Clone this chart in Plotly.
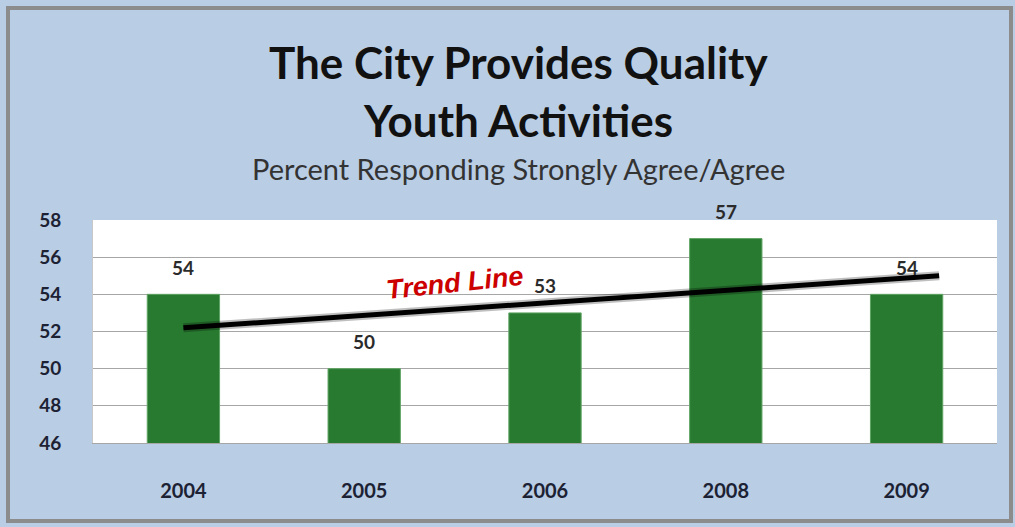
import plotly.graph_objects as go

years = ["2004", "2005", "2006", "2008", "2009"]
values = [54, 50, 53, 57, 54]
trend_x = [0.0, 4.18]
trend_y = [52.2, 55.0]
y_ticks = [46, 48, 50, 52, 54, 56, 58]

BG = "#b9cde5"
FONT = "Lato"
xs = list(range(len(years)))

fig = go.Figure()
fig.add_trace(go.Bar(
    x=xs, y=values, width=0.4,
    marker=dict(color="#287a30", line=dict(color="#5fa463", width=1)),
    hoverinfo="skip",
))
fig.add_trace(go.Scatter(
    x=trend_x, y=trend_y, mode="lines",
    line=dict(color="rgba(0,0,0,0.25)", width=9),
    hoverinfo="skip",
))
fig.add_trace(go.Scatter(
    x=trend_x, y=trend_y, mode="lines",
    line=dict(color="#000000", width=5),
    hoverinfo="skip",
))

annotations = []
for x, v in zip(xs, values):
    annotations.append(dict(
        x=x, y=v, xref="x", yref="y", text="<b>" + str(v) + "</b>", showarrow=False,
        yshift=27, font=dict(family=FONT, size=19, color="#2b2b2b"),
    ))
annotations.append(dict(
    x=1.5, y=54.6, xref="x", yref="y", text="<b><i>Trend Line</i></b>",
    showarrow=False, textangle=-6,
    font=dict(family="Liberation Sans", size=27, color="#cc0000"),
))

title_ann = [
    dict(x=518, y=62, text="<b>The City Provides Quality</b>", size=44, color="#111111"),
    dict(x=518, y=120, text="<b>Youth Activities</b>", size=44, color="#111111"),
    dict(x=518, y=168, text="Percent Responding Strongly Agree/Agree", size=29, color="#333333"),
]
for t in title_ann:
    annotations.append(dict(
        x=(t["x"] - 93) / (1015 - 93 - 18), y=(527 - 84 - t["y"]) / (527 - 220 - 84),
        xref="paper", yref="paper", text=t["text"], showarrow=False,
        xanchor="center", yanchor="middle",
        font=dict(family=FONT, size=t["size"], color=t["color"]),
    ))

fig.update_layout(
    width=1015, height=527,
    paper_bgcolor=BG, plot_bgcolor="#ffffff",
    margin=dict(l=93, r=18, t=220, b=84),
    showlegend=False,
    annotations=annotations,
    xaxis=dict(
        range=[-0.5, 4.5], tickvals=xs, ticktext=["<b>" + y + "</b>" for y in years],
        ticks="outside", ticklen=30, tickcolor="rgba(0,0,0,0)",
        tickfont=dict(family=FONT, size=20, color="#1c2233"),
        showgrid=False, zeroline=False,
        showline=True, linecolor="#a6a6a6", linewidth=1,
    ),
    yaxis=dict(
        range=[46, 58], tickvals=y_ticks, ticktext=["<b>%d</b>" % t for t in y_ticks],
        ticks="outside", ticklen=27, tickcolor="rgba(0,0,0,0)",
        tickfont=dict(family=FONT, size=19, color="#1c2233"),
        gridcolor="#a6a6a6", gridwidth=1, zeroline=False,
        showline=True, linecolor="#c8c8c8", linewidth=1,
    ),
)

fig.add_shape(type="rect", xref="paper", yref="paper",
              x0=(8 - 93) / 904, x1=(1011 - 93) / 904,
              y0=(443 - 521) / 223, y1=(443 - 8) / 223,
              line=dict(color="#8c8c8c", width=4), layer="below")

fig.write_html("out.html")
